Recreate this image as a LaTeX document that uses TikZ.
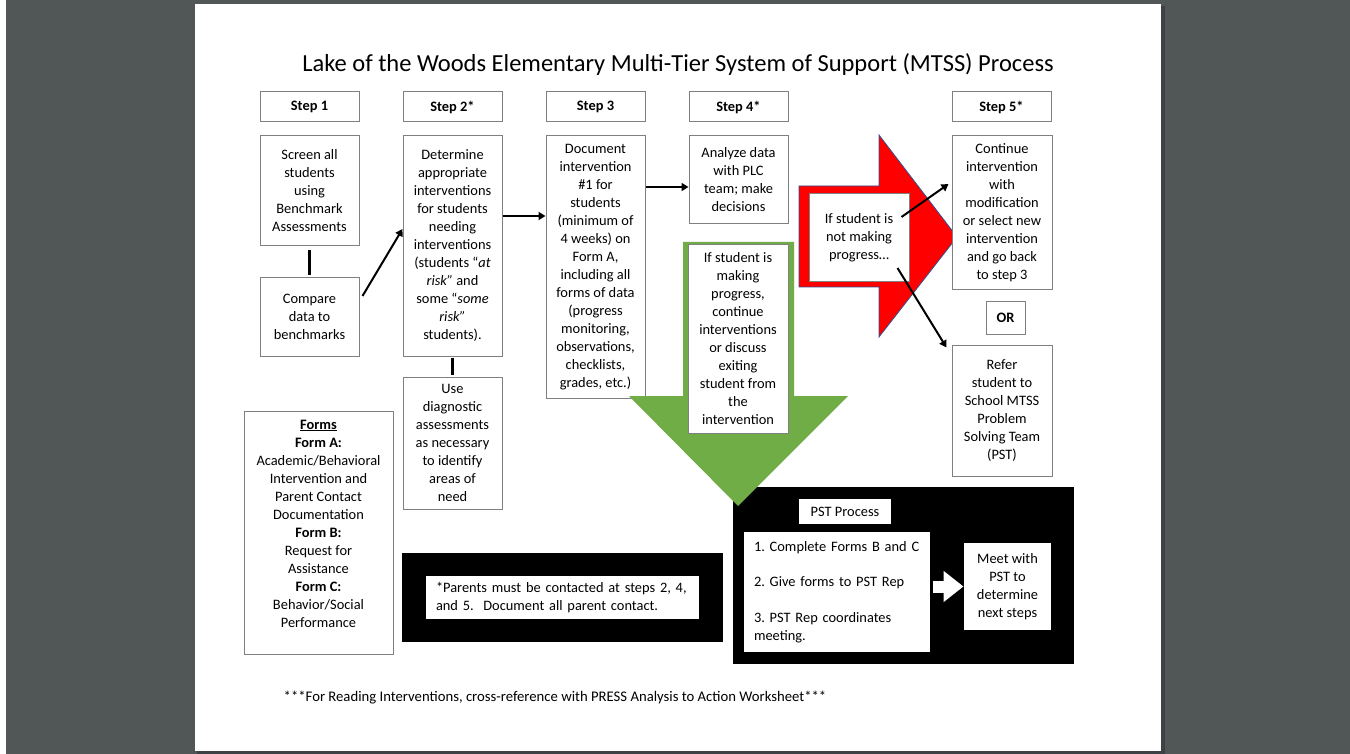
\documentclass[tikz,border=0pt]{standalone}
\usepackage{fontspec}
\setmainfont{Carlito}
\usetikzlibrary{calc}
\usetikzlibrary{positioning}
\usetikzlibrary{arrows.meta}

\definecolor{deskgray}{RGB}{81,87,86}
\definecolor{shadegray}{RGB}{62,66,68}
\definecolor{boxgray}{RGB}{128,128,128}
\definecolor{arrowgreen}{RGB}{112,173,71}
\definecolor{arrowred}{RGB}{255,0,0}
\definecolor{rededge}{RGB}{47,82,143}

\newcommand{\boxfont}{\fontsize{14.4}{18}\selectfont}
\frenchspacing

\begin{document}
\begin{tikzpicture}[%
  x=1pt, y=-1pt,
  >={Triangle[length=7pt,width=8pt]},
  card/.style={draw=boxgray, line width=1pt, fill=white, align=center,
    inner sep=0pt, font=\boxfont},
  stephead/.style={card, minimum width=99pt, minimum height=30pt,
    font=\boxfont\bfseries},
  blackbox/.style={fill=black, inner sep=0pt},
  link/.style={line width=2.5pt, shorten <=4pt, shorten >=2pt},
  conn/.style={line width=2pt, ->},
  blockarrow/.style={white, line width=12pt,
    -{Triangle[length=20pt,width=30pt]}},
]

  \useasboundingbox (0,0) rectangle (1350,754);
  \fill[deskgray] (0,0) rectangle (1350,754);
  \fill[white] (0,0) rectangle (6,754);
  \fill[shadegray] (197,6) rectangle (1165,754);
  \fill[white] (195,4) rectangle (1161,751);

  \node[font=\fontsize{24.5}{28}\selectfont] (title) at (678,65)
    {Lake of the Woods Elementary Multi-Tier System of Support (MTSS) Process};

  \node[stephead] (s1h) at (309.5,107) {Step 1};
  \node[stephead] (s2h) at (452.5,107) {Step 2*};
  \node[stephead] (s3h) at (595.5,107) {Step 3};
  \node[stephead] (s4h) at (738.5,107) {Step 4*};
  \node[stephead] (s5h) at (1001.5,107) {Step 5*};

  \node[blackbox, minimum width=341pt, minimum height=177pt] (pstblk) at (903.5,575.5) {};
  \node[card, draw=none, minimum width=92pt, minimum height=25pt] (psth) at (845,511.5) {PST Process};
  \node[card, draw=none, align=left, text width=172pt, inner xsep=7pt, minimum height=120pt]
    (pstl) at (837,592)
    {\hspace*{3pt}1. Complete Forms B and C\\[17.5pt] \hspace*{3pt}2. Give forms to PST Rep\\[17.5pt]
     \hspace*{3pt}3. PST Rep coordinates\\ \hspace*{3pt}meeting.};
  \node[card, draw=none, minimum width=87pt, minimum height=87pt] (meet) at (1007.5,586.5)
    {Meet with\\ PST to\\ determine\\ next steps};

  \node[blackbox, minimum width=321pt, minimum height=89pt] (noteblk) at (562.5,597.5) {};
  \node[card, draw=none, align=left, text width=253pt, inner xsep=10pt, minimum height=43pt]
    (note) at (562.5,597.5)
    {*Parents must be contacted at steps 2, 4,\\ and 5.\ \ Document all parent contact.};

  \node[card, minimum width=99pt, minimum height=110pt] (scr) at (309.5,191)
    {Screen all\\ students\\ using\\ Benchmark\\ Assessments};
  \node[card, minimum width=99pt, minimum height=78pt] (cmp) at (309.5,317)
    {Compare\\ data to\\ benchmarks};
  \node[card, minimum width=99pt, minimum height=220pt] (det) at (452.5,246)
    {Determine\\ appropriate\\ interventions\\ for students\\ needing\\ interventions\\
     (students “\textit{at}\\ \textit{risk”} and\\ some “\textit{some}\\ \textit{risk”}\\ students).};
  \node[card, minimum width=99pt, minimum height=132pt] (use) at (452.5,443)
    {Use\\ diagnostic\\ assessments\\ as necessary\\ to identify\\ areas of\\ need};
  \node[card, minimum width=99pt, minimum height=262pt] (doc) at (595.5,267)
    {Document\\ intervention\\ \#1 for\\ students\\ (minimum of\\ 4 weeks) on\\ Form A,\\
     including all\\ forms of data\\ (progress\\ monitoring,\\ observations,\\ checklists,\\ grades, etc.)};
  \node[card, minimum width=99pt, minimum height=88pt] (ana) at (738.5,180)
    {Analyze data\\ with PLC\\ team; make\\ decisions};
  \node[card, minimum width=149pt, minimum height=243pt] (forms) at (318.5,532.5)
    {\underline{\textbf{Forms}}\\ \textbf{Form A:}\\ Academic/Behavioral\\ Intervention and\\
     Parent Contact\\ Documentation\\ \textbf{Form B:}\\ Request for\\ Assistance\\
     \textbf{Form C:}\\ Behavior/Social\\ Performance\\ \mbox{}};

  \fill[arrowgreen] (683,242) -- (794,242) -- (794,396) -- (848,396) -- (738,506)
    -- (629,396) -- (683,396) -- cycle;
  \node[card, minimum width=100pt, minimum height=188pt] (prog) at (738,339)
    {If student is\\ making\\ progress,\\ continue\\ interventions\\ or discuss\\
     exiting\\ student from\\ the\\ intervention};

  \filldraw[fill=arrowred, draw=rededge, line width=0.8pt] (799,186) -- (879,186)
    -- (879,135) -- (957,237) -- (879,337) -- (879,287) -- (799,287) -- cycle;
  \node[card, minimum width=100pt, minimum height=88pt] (nmp) at (859,238)
    {If student is\\ not making\\ progress…};

  \node[card, minimum width=100pt, minimum height=154pt] (cont) at (1002,213)
    {Continue\\ intervention\\ with\\ modification\\ or select new\\ intervention\\
     and go back\\ to step 3};
  \node[card, minimum width=39pt, minimum height=33pt, font=\boxfont\bfseries] (orb) at (1005.5,317.5) {OR};
  \node[card, minimum width=100pt, minimum height=131pt] (ref) at (1002,410.5)
    {Refer\\ student to\\ School MTSS\\ Problem\\ Solving Team\\ (PST)};

  \node[font=\fontsize{14.7}{18}\selectfont] (foot) at (555,698)
    {***For Reading Interventions, cross-reference with PRESS Analysis to Action Worksheet***};

  \draw[link] (scr) -- (cmp);
  \draw[link, shorten <=1pt] (det) -- (use);

  \draw[conn] ([xshift=3pt,yshift=21pt]cmp.east) -- ([yshift=17pt]det.west);

  \coordinate (a23) at ([yshift=30pt]det.east);
  \draw[conn] (a23) -- (a23 -| doc.west);

  \coordinate (a34) at ([yshift=-7pt]ana.west);
  \draw[conn] (a34 -| doc.east) -- (a34);

  \draw[conn] ([xshift=-8pt,yshift=21pt]nmp.east) -- ([xshift=-3pt,yshift=29pt]cont.west);
  \draw[conn] ([xshift=-12pt,yshift=-30pt]nmp.east) -- ([xshift=-5pt,yshift=-3pt]ref.north west);

  \draw[blockarrow, shorten <=2pt] (pstl.east |- meet.west) -- (meet.west);

\end{tikzpicture}
\end{document}
